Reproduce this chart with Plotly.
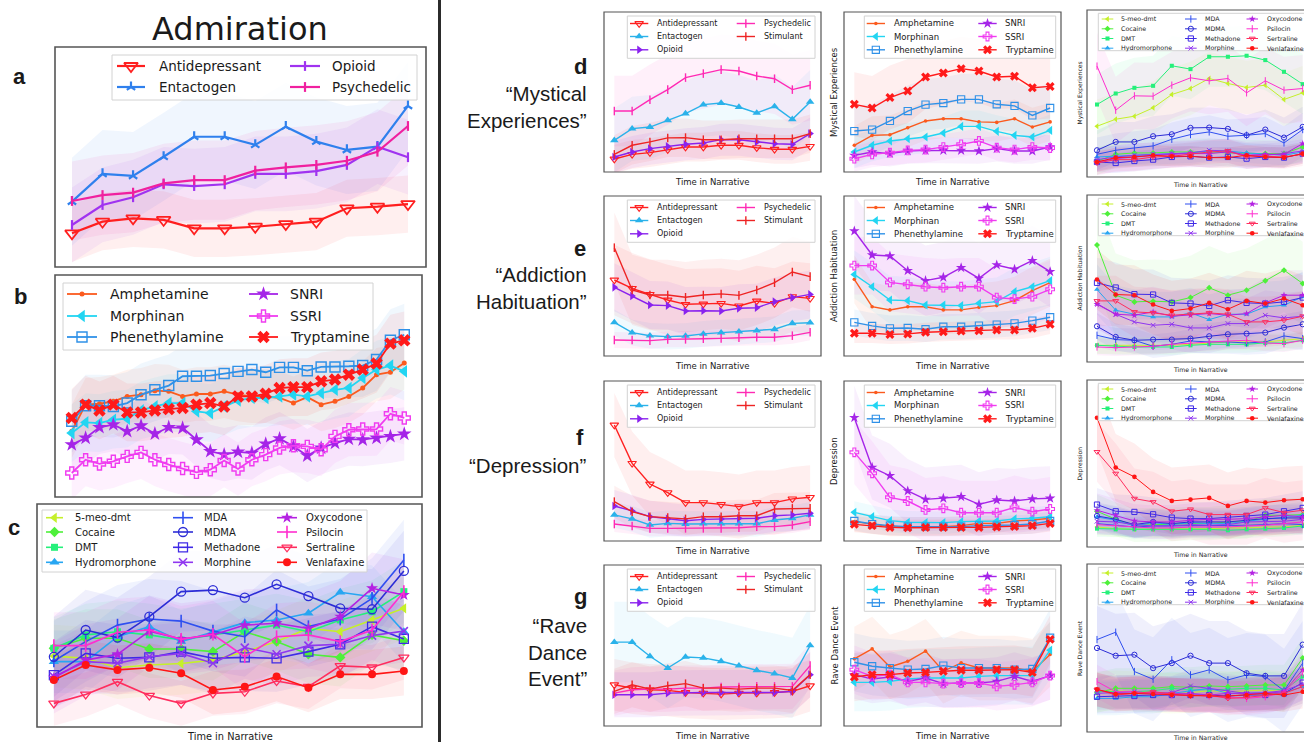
import plotly.graph_objects as go

W, H = 1304, 742

# ------------------------------------------------------------------ data
T12 = [0, 1, 2, 3, 4, 5, 6, 7, 8, 9, 10, 11]
T25 = [0, 1, 2, 3, 4, 5, 6, 7, 8, 9, 10, 11, 12, 13, 14, 15, 16, 17, 18, 19, 20, 21, 22, 23, 24]

TITLE = "Admiration"
X_LABEL = "Time in Narrative"
CLASS_A_NAMES = ["Antidepressant", "Entactogen", "Opioid", "Psychedelic"]
CLASS_NAMES = ["Antidepressant", "Entactogen", "Opioid", "Psychedelic", "Stimulant"]
CHEM_NAMES = ["Amphetamine", "Morphinan", "Phenethylamine", "SNRI", "SSRI", "Tryptamine"]
DRUG_NAMES = ["5-meo-dmt", "Cocaine", "DMT", "Hydromorphone", "MDA", "MDMA",
              "Methadone", "Morphine", "Oxycodone", "Psilocin", "Sertraline", "Venlafaxine"]
EMOTIONS = ["Mystical Experiences", "Addiction Habituation", "Depression", "Rave Dance Event"]
ROW_LETTERS = ["d", "e", "f", "g"]
ROW_CAPTIONS = ["“Mystical<br>Experiences”", "“Addiction<br>Habituation”", "“Depression”", "“Rave<br>Dance<br>Event”"]

# (a) Admiration - drug classes
A_ANTIDEPRESSANT = [15.3, 20.6, 22.1, 21.4, 17.6, 17.6, 18.3, 19.5, 20.6, 26.7, 27.4, 28.6]
A_ENTACTOGEN = [29.7, 42.3, 41.4, 50.1, 59.2, 59.2, 55.5, 63.8, 57.0, 53.2, 54.7, 73.2]
A_OPIOID = [19.1, 28.2, 31.7, 37.6, 36.8, 37.6, 42.3, 42.3, 43.6, 46.4, 54.7, 49.9]
A_PSYCHEDELIC = [30.0, 32.7, 33.8, 38.0, 39.5, 39.5, 43.8, 45.3, 46.4, 48.3, 52.4, 64.1]
A_SPREAD = [13, 20, 17, 18]

# (b) Admiration - chemical classes
B_AMPHETAMINE = [29.6, 41.6, 42.0, 43.1, 45.3, 46.1, 47.9, 47.6, 45.3, 46.4, 46.4, 47.6, 46.1,
                 45.3, 45.3, 44.6, 42.3, 45.0, 41.6, 43.1, 45.3, 49.1, 55.1, 56.2, 60.4]
B_MORPHINAN = [28.8, 33.6, 33.3, 34.8, 35.3, 39.0, 40.8, 42.3, 42.3, 38.6, 37.8, 40.8, 43.5,
               44.6, 44.6, 45.3, 46.1, 45.3, 46.8, 48.3, 49.1, 53.6, 57.4, 59.2, 56.6]
B_PHENETHYLAMINE = [34.1, 41.1, 41.1, 40.8, 42.3, 46.1, 48.3, 50.2, 54.4, 54.4, 54.7, 55.6, 56.6,
                    57.4, 56.2, 58.4, 58.4, 56.9, 58.6, 58.6, 58.9, 59.2, 61.9, 70.6, 73.1]
B_SNRI = [23.6, 26.6, 31.4, 32.6, 29.6, 32.1, 28.5, 31.4, 31.1, 25.8, 20.6, 19.1, 20.3,
          19.8, 23.9, 26.3, 22.8, 18.6, 22.1, 24.3, 26.1, 25.8, 26.6, 27.3, 28.4]
B_SSRI = [10.8, 16.8, 14.9, 16.1, 18.3, 20.1, 16.8, 14.6, 12.8, 11.1, 12.3, 16.4, 12.6,
          16.8, 19.1, 22.1, 23.1, 22.8, 21.3, 27.3, 30.3, 30.6, 30.6, 37.5, 35.6]
B_TRYPTAMINE = [35.6, 41.6, 39.0, 41.6, 38.1, 38.1, 39.0, 39.6, 40.1, 41.6, 42.3, 40.8, 45.3,
                45.3, 46.5, 49.1, 49.5, 49.5, 52.1, 52.9, 55.1, 57.4, 60.1, 69.1, 70.6]
B_SPREAD = [12, 13, 14, 12, 12, 13]

# (c) Admiration - individual drugs
C_5MEO_DMT = [31.8, 30.8, 26.6, 27.8, 28.5, 30.0, 33.8, 38.3, 44.2, 42.7, 48.0, 53.2]
C_COCAINE = [35.3, 39.8, 39.8, 35.0, 35.0, 33.8, 42.7, 38.3, 32.6, 31.2, 41.3, 38.7]
C_DMT = [35.3, 41.3, 42.7, 41.3, 39.0, 41.3, 43.5, 45.7, 42.7, 48.0, 51.7, 60.7]
C_HYDROMORPHONE = [29.3, 29.3, 40.5, 45.0, 38.3, 42.7, 46.8, 48.0, 51.0, 60.4, 58.4, 42.7]
C_MDA = [29.6, 38.3, 45.7, 48.4, 47.5, 43.0, 40.5, 52.5, 45.0, 48.4, 57.7, 74.9]
C_MDMA = [31.5, 43.5, 40.1, 49.5, 60.7, 61.4, 58.0, 64.0, 58.7, 53.2, 52.8, 70.0]
C_METHADONE = [23.3, 33.0, 30.8, 31.2, 33.8, 30.8, 31.2, 30.8, 33.8, 37.1, 45.0, 39.5]
C_MORPHINE = [22.6, 29.3, 28.6, 31.5, 33.0, 28.6, 35.6, 32.6, 36.5, 37.1, 41.0, 43.0]
C_OXYCODONE = [22.1, 30.0, 32.6, 43.0, 39.5, 41.3, 45.7, 46.5, 44.2, 49.5, 62.2, 59.2]
C_PSILOCIN = [36.5, 36.5, 42.5, 43.5, 39.3, 41.6, 31.5, 40.5, 41.3, 38.3, 43.5, 60.7]
C_SERTRALINE = [10.6, 14.6, 20.3, 14.1, 10.6, 15.1, 15.8, 20.6, 18.1, 27.4, 26.8, 31.2]
C_VENLAFAXINE = [21.1, 27.8, 25.6, 26.6, 24.1, 16.6, 18.1, 22.6, 17.6, 23.6, 23.6, 25.1]
C_SPREAD = [14, 13, 14, 14, 18, 18, 15, 14, 16, 15, 10, 11]

# (d) Mystical Experiences
D_CLS_ANTIDEPRESSANT = [8.1, 11.0, 12.1, 14.0, 15.6, 15.6, 16.7, 16.7, 15.2, 14.2, 14.2, 16.0]
D_CLS_ENTACTOGEN = [19.8, 27.1, 28.1, 32.3, 36.5, 42.1, 43.1, 40.6, 36.9, 41.0, 32.9, 43.8]
D_CLS_OPIOID = [9.4, 12.5, 14.6, 16.0, 17.3, 18.1, 20.2, 20.2, 18.8, 17.7, 17.3, 24.0]
D_CLS_PSYCHEDELIC = [38.1, 38.1, 45.2, 51.5, 59.0, 61.5, 64.0, 63.1, 60.0, 58.3, 51.5, 54.2]
D_CLS_STIMULANT = [11.0, 16.7, 18.8, 21.3, 21.5, 20.2, 20.2, 20.8, 20.8, 20.8, 20.8, 24.0]
D_CLS_SPREAD = [9, 20, 10, 22, 12]
D_CHEM_AMPHETAMINE = [16.7, 22.9, 23.3, 27.7, 31.9, 33.3, 33.3, 31.3, 31.0, 33.3, 28.1, 31.3]
D_CHEM_MORPHINAN = [12.5, 16.7, 19.4, 20.8, 21.9, 24.4, 28.5, 28.5, 25.4, 22.9, 21.9, 26.0]
D_CHEM_PHENETHYLAMINE = [25.6, 26.5, 31.9, 38.1, 42.1, 43.1, 45.4, 45.4, 42.3, 41.3, 35.4, 40.0]
D_CHEM_SNRI = [10.4, 12.5, 11.5, 13.1, 13.5, 13.5, 13.5, 13.1, 14.6, 13.1, 13.1, 15.6]
D_CHEM_SSRI = [8.3, 11.0, 12.1, 13.5, 14.0, 15.6, 17.3, 19.4, 15.2, 14.0, 15.6, 15.0]
D_CHEM_TRYPTAMINE = [42.3, 40.0, 46.5, 50.6, 59.4, 61.9, 64.6, 63.1, 59.4, 59.8, 52.7, 53.5]
D_CHEM_SPREAD = [12, 10, 16, 8, 8, 20]
D_DRUG_5MEO_DMT = [30.4, 34.6, 36.4, 41.4, 49.4, 53.0, 59.0, 56.0, 53.6, 55.0, 46.4, 50.4]
D_DRUG_COCAINE = [9.4, 13.6, 14.4, 14.4, 15.0, 15.0, 15.0, 14.4, 14.0, 14.0, 14.0, 18.0]
D_DRUG_DMT = [43.4, 50.0, 53.4, 54.6, 66.6, 64.6, 72.0, 72.0, 72.6, 70.0, 63.0, 55.6]
D_DRUG_HYDROMORPHONE = [12.0, 12.4, 13.0, 13.6, 14.0, 14.4, 15.6, 15.6, 14.4, 13.6, 13.0, 15.0]
D_DRUG_MDA = [13.6, 16.0, 17.4, 18.6, 22.6, 25.4, 27.0, 24.4, 25.0, 26.0, 20.4, 28.4]
D_DRUG_MDMA = [16.0, 21.0, 21.0, 24.4, 25.6, 29.4, 29.6, 28.8, 25.0, 28.4, 23.6, 30.0]
D_DRUG_METHADONE = [9.0, 8.4, 9.6, 10.4, 12.0, 12.4, 11.6, 12.0, 11.0, 12.0, 11.6, 14.0]
D_DRUG_MORPHINE = [10.4, 12.0, 13.0, 13.6, 14.0, 14.4, 16.0, 15.6, 13.0, 13.0, 14.0, 15.6]
D_DRUG_OXYCODONE = [9.0, 11.0, 12.0, 13.0, 13.6, 14.0, 14.0, 15.0, 13.0, 13.6, 13.6, 20.0]
D_DRUG_PSILOCIN = [66.4, 40.0, 48.6, 48.4, 55.0, 59.4, 57.6, 59.0, 50.4, 57.6, 52.0, 53.0]
D_DRUG_SERTRALINE = [8.4, 10.4, 10.4, 12.0, 12.4, 13.6, 15.0, 15.6, 12.0, 12.4, 12.0, 13.6]
D_DRUG_VENLAFAXINE = [9.0, 11.6, 12.0, 13.0, 12.4, 12.4, 11.6, 11.6, 13.0, 12.0, 11.6, 14.0]
D_DRUG_SPREAD = [16, 8, 18, 6, 10, 12, 6, 7, 8, 20, 7, 6]

# (e) Addiction Habituation
E_CLS_ANTIDEPRESSANT = [47.5, 42.3, 38.5, 35.0, 32.3, 32.5, 32.9, 31.3, 34.4, 32.9, 37.1, 36.0]
E_CLS_ENTACTOGEN = [21.0, 14.6, 12.7, 12.1, 12.5, 13.8, 14.6, 15.2, 15.8, 16.7, 20.4, 20.8]
E_CLS_OPIOID = [42.9, 37.5, 31.9, 31.5, 28.1, 28.3, 28.1, 29.8, 30.2, 34.0, 36.5, 38.5]
E_CLS_PSYCHEDELIC = [10.0, 10.0, 9.6, 10.4, 10.4, 10.8, 11.0, 11.5, 11.7, 11.7, 12.7, 14.8]
E_CLS_STIMULANT = [67.7, 41.3, 38.1, 38.1, 36.7, 38.1, 38.8, 37.9, 41.3, 45.8, 52.5, 49.6]
E_CLS_SPREAD = [22, 8, 15, 5, 22]
E_CHEM_AMPHETAMINE = [47.9, 30.8, 28.8, 30.8, 30.8, 28.8, 28.8, 30.4, 31.5, 34.6, 40.8, 45.8]
E_CHEM_MORPHINAN = [51.0, 43.3, 35.0, 34.6, 31.9, 31.9, 31.5, 32.9, 34.0, 40.2, 43.3, 47.1]
E_CHEM_PHENETHYLAMINE = [21.0, 18.8, 17.3, 17.5, 16.7, 18.3, 18.3, 19.0, 19.6, 20.4, 22.1, 24.2]
E_CHEM_SNRI = [78.1, 63.1, 62.5, 53.3, 47.1, 49.2, 55.2, 48.5, 56.9, 54.2, 59.6, 52.7]
E_CHEM_SSRI = [56.5, 56.5, 46.0, 44.8, 43.3, 42.7, 43.3, 43.3, 36.5, 35.6, 37.1, 41.7]
E_CHEM_TRYPTAMINE = [14.2, 14.2, 13.5, 13.8, 14.8, 15.2, 15.6, 15.8, 16.3, 16.3, 17.3, 19.8]
E_CHEM_SPREAD = [15, 15, 8, 22, 18, 6]
E_DRUG_5MEO_DMT = [10.0, 10.0, 10.0, 10.0, 10.0, 10.6, 11.4, 12.0, 12.0, 12.0, 13.0, 14.0]
E_DRUG_COCAINE = [70.0, 40.0, 36.0, 36.4, 36.0, 38.6, 44.4, 40.0, 43.0, 48.6, 55.0, 47.0]
E_DRUG_DMT = [10.0, 9.4, 9.0, 9.0, 9.0, 10.0, 10.6, 10.6, 10.6, 11.4, 11.4, 13.0]
E_DRUG_HYDROMORPHONE = [43.4, 31.0, 28.6, 27.0, 27.0, 29.4, 25.4, 28.6, 28.6, 33.0, 34.0, 39.0]
E_DRUG_MDA = [16.0, 13.4, 13.0, 9.4, 10.6, 12.6, 12.0, 12.0, 11.4, 12.0, 15.6, 14.0]
E_DRUG_MDMA = [21.4, 15.0, 13.0, 13.4, 13.4, 14.0, 15.4, 16.6, 17.0, 17.6, 20.6, 22.6]
E_DRUG_METHADONE = [47.4, 44.6, 40.6, 40.4, 35.4, 35.0, 33.6, 37.0, 35.4, 35.0, 36.0, 38.6]
E_DRUG_MORPHINE = [35.0, 28.6, 24.0, 22.0, 22.6, 20.4, 20.4, 23.0, 23.0, 28.0, 26.4, 27.4]
E_DRUG_OXYCODONE = [34.6, 28.6, 28.0, 30.0, 27.4, 28.0, 29.0, 28.0, 29.0, 35.4, 40.0, 40.0]
E_DRUG_PSILOCIN = [9.0, 8.6, 9.0, 9.4, 10.6, 11.4, 12.0, 12.6, 13.0, 11.4, 11.0, 13.0]
E_DRUG_SERTRALINE = [36.6, 36.6, 30.0, 29.4, 28.0, 28.6, 29.4, 28.6, 24.0, 24.0, 25.0, 27.4]
E_DRUG_VENLAFAXINE = [49.4, 40.4, 40.0, 34.4, 30.6, 32.0, 35.4, 31.6, 36.6, 35.0, 38.0, 34.0]
E_DRUG_SPREAD = [5, 25, 5, 15, 7, 8, 15, 15, 15, 5, 15, 18]

# (f) Depression
F_CLS_ANTIDEPRESSANT = [72.5, 48.5, 35.6, 30.2, 24.0, 24.0, 22.9, 21.5, 24.0, 24.0, 26.3, 27.3]
F_CLS_ENTACTOGEN = [16.3, 13.8, 10.0, 11.0, 10.6, 10.8, 10.8, 10.8, 10.8, 13.1, 14.2, 16.3]
F_CLS_OPIOID = [21.9, 18.8, 15.2, 13.8, 12.7, 13.5, 13.8, 14.2, 14.2, 15.8, 16.3, 17.3]
F_CLS_PSYCHEDELIC = [10.6, 9.4, 7.9, 7.9, 7.9, 7.9, 7.9, 8.3, 9.0, 9.0, 10.0, 12.1]
F_CLS_STIMULANT = [24.6, 18.3, 15.2, 14.6, 13.8, 15.2, 15.2, 15.8, 15.8, 20.0, 20.4, 20.4]
F_CLS_SPREAD = [20, 8, 10, 5, 10]
F_CHEM_AMPHETAMINE = [12.1, 10.4, 9.0, 9.0, 9.0, 9.0, 9.6, 11.0, 11.0, 12.5, 13.1, 14.2]
F_CHEM_MORPHINAN = [17.9, 15.2, 12.7, 11.7, 11.5, 11.5, 12.1, 12.5, 12.5, 13.8, 14.2, 15.2]
F_CHEM_PHENETHYLAMINE = [12.5, 10.6, 9.6, 9.0, 9.0, 9.0, 9.0, 9.6, 9.6, 10.0, 10.6, 12.5]
F_CHEM_SNRI = [77.1, 46.0, 40.8, 31.3, 26.0, 26.7, 27.7, 22.9, 25.6, 25.0, 26.3, 26.7]
F_CHEM_SSRI = [55.4, 42.3, 27.3, 25.0, 19.4, 20.4, 17.7, 17.7, 17.7, 21.0, 18.3, 20.0]
F_CHEM_TRYPTAMINE = [10.4, 9.6, 8.5, 8.3, 8.5, 8.5, 8.5, 8.5, 8.8, 9.0, 9.6, 11.0]
F_CHEM_SPREAD = [6, 7, 6, 20, 20, 5]
F_DRUG_5MEO_DMT = [12.0, 11.0, 10.6, 10.6, 10.6, 11.0, 11.0, 11.4, 11.4, 12.0, 12.0, 13.0]
F_DRUG_COCAINE = [21.4, 16.6, 13.0, 13.4, 13.4, 14.0, 14.0, 15.0, 15.0, 19.0, 19.0, 19.4]
F_DRUG_DMT = [11.0, 10.6, 10.6, 10.6, 10.6, 10.6, 10.6, 10.0, 10.6, 11.0, 11.4, 12.6]
F_DRUG_HYDROMORPHONE = [18.0, 16.0, 12.6, 14.6, 13.4, 14.6, 14.0, 14.0, 15.4, 16.6, 17.4, 19.0]
F_DRUG_MDA = [14.0, 13.0, 12.0, 12.6, 12.6, 13.0, 13.0, 12.6, 13.0, 13.4, 14.0, 13.4]
F_DRUG_MDMA = [18.6, 16.6, 13.4, 15.0, 14.0, 15.0, 15.0, 15.0, 16.0, 17.0, 17.4, 17.4]
F_DRUG_METHADONE = [25.4, 21.4, 21.0, 19.6, 17.6, 17.0, 17.0, 18.0, 18.6, 19.4, 21.4, 23.4]
F_DRUG_MORPHINE = [15.4, 15.0, 13.4, 12.6, 12.6, 13.4, 13.0, 13.4, 15.0, 15.0, 15.4, 16.6]
F_DRUG_OXYCODONE = [22.0, 19.0, 15.6, 15.0, 15.0, 16.0, 16.6, 16.6, 17.0, 18.0, 19.0, 18.0]
F_DRUG_PSILOCIN = [13.4, 12.6, 12.0, 11.4, 11.4, 12.0, 12.0, 12.0, 12.6, 13.0, 14.0, 15.0]
F_DRUG_SERTRALINE = [57.0, 44.0, 29.0, 27.0, 21.4, 22.6, 19.4, 19.4, 19.4, 23.4, 20.6, 22.0]
F_DRUG_VENLAFAXINE = [77.4, 47.6, 42.0, 33.0, 27.6, 28.4, 29.4, 24.6, 27.6, 26.6, 28.0, 28.6]
F_DRUG_SPREAD = [5, 10, 5, 8, 6, 8, 10, 8, 10, 5, 18, 20]

# (g) Rave Dance Event
G_CLS_ANTIDEPRESSANT = [25.6, 23.5, 22.5, 22.1, 20.8, 20.4, 19.8, 20.4, 20.4, 20.8, 21.5, 25.0]
G_CLS_ENTACTOGEN = [52.1, 52.1, 43.3, 36.0, 42.9, 42.3, 40.2, 37.5, 34.6, 32.5, 29.8, 50.0]
G_CLS_OPIOID = [19.4, 19.4, 19.4, 20.4, 20.8, 20.8, 20.8, 20.8, 20.8, 20.8, 21.5, 31.9]
G_CLS_PSYCHEDELIC = [20.4, 22.5, 22.9, 22.9, 23.5, 23.5, 24.2, 24.2, 24.6, 24.6, 24.6, 37.5]
G_CLS_STIMULANT = [21.5, 25.6, 22.9, 25.0, 26.3, 23.5, 23.5, 22.9, 23.5, 23.5, 22.1, 31.9]
G_CLS_SPREAD = [16, 25, 14, 14, 14]
G_CHEM_AMPHETAMINE = [41.7, 47.9, 36.7, 40.2, 46.5, 34.0, 39.2, 36.0, 36.0, 36.0, 34.0, 44.4]
G_CHEM_MORPHINAN = [27.1, 27.1, 27.7, 29.2, 29.8, 29.8, 29.8, 30.8, 31.3, 31.3, 31.3, 47.1]
G_CHEM_PHENETHYLAMINE = [39.6, 37.1, 36.0, 35.0, 35.4, 37.5, 36.0, 36.0, 36.0, 35.0, 35.4, 54.8]
G_CHEM_SNRI = [31.9, 29.2, 30.4, 27.7, 29.8, 26.3, 26.7, 26.7, 27.7, 30.8, 27.7, 31.3]
G_CHEM_SSRI = [35.0, 30.8, 31.9, 27.1, 27.1, 26.3, 26.7, 26.7, 24.6, 25.6, 27.1, 31.3]
G_CHEM_TRYPTAMINE = [30.4, 31.9, 31.9, 32.9, 33.3, 34.0, 34.6, 34.6, 35.0, 35.0, 33.3, 53.8]
G_CHEM_SPREAD = [20, 18, 18, 15, 15, 15]
G_DRUG_5MEO_DMT = [24.0, 24.6, 24.0, 23.4, 23.0, 23.4, 24.6, 24.0, 24.6, 25.0, 24.0, 37.0]
G_DRUG_COCAINE = [23.4, 26.0, 26.0, 26.0, 27.0, 26.6, 27.4, 27.0, 27.4, 28.0, 28.0, 44.0]
G_DRUG_DMT = [24.0, 24.0, 24.0, 24.6, 26.0, 25.0, 25.0, 25.4, 26.0, 26.0, 25.0, 33.0]
G_DRUG_HYDROMORPHONE = [20.0, 20.0, 21.0, 21.0, 23.0, 24.6, 26.0, 23.0, 23.0, 23.4, 23.4, 27.0]
G_DRUG_MDA = [55.0, 59.4, 36.0, 31.4, 43.0, 34.0, 37.0, 31.0, 34.0, 33.0, 24.6, 41.0]
G_DRUG_MDMA = [50.0, 45.4, 46.0, 38.0, 41.0, 45.4, 41.0, 41.0, 35.0, 33.4, 33.4, 52.0]
G_DRUG_METHADONE = [21.0, 21.4, 21.4, 22.0, 22.0, 22.0, 22.0, 21.4, 22.0, 22.0, 23.0, 29.4]
G_DRUG_MORPHINE = [23.0, 23.4, 24.0, 23.0, 23.4, 27.4, 26.0, 24.6, 23.0, 23.4, 24.6, 28.6]
G_DRUG_OXYCODONE = [25.0, 23.0, 23.0, 23.4, 23.0, 23.0, 22.0, 23.0, 23.0, 23.0, 24.0, 37.0]
G_DRUG_PSILOCIN = [30.0, 24.0, 24.0, 23.0, 22.0, 22.0, 21.4, 21.0, 20.0, 21.0, 23.4, 35.0]
G_DRUG_SERTRALINE = [25.4, 22.0, 23.0, 24.0, 22.6, 21.4, 22.0, 20.0, 20.6, 22.0, 23.0, 27.0]
G_DRUG_VENLAFAXINE = [25.4, 22.6, 23.0, 22.6, 22.0, 21.4, 21.4, 21.4, 22.0, 23.0, 22.0, 24.0]
G_DRUG_SPREAD = [12, 12, 10, 10, 25, 25, 10, 10, 10, 10, 10, 10]

A_VALUES = [A_ANTIDEPRESSANT, A_ENTACTOGEN, A_OPIOID, A_PSYCHEDELIC]
B_VALUES = [B_AMPHETAMINE, B_MORPHINAN, B_PHENETHYLAMINE, B_SNRI, B_SSRI, B_TRYPTAMINE]
C_VALUES = [C_5MEO_DMT, C_COCAINE, C_DMT, C_HYDROMORPHONE, C_MDA, C_MDMA, C_METHADONE,
            C_MORPHINE, C_OXYCODONE, C_PSILOCIN, C_SERTRALINE, C_VENLAFAXINE]
GRID = [
    [([D_CLS_ANTIDEPRESSANT, D_CLS_ENTACTOGEN, D_CLS_OPIOID, D_CLS_PSYCHEDELIC, D_CLS_STIMULANT], D_CLS_SPREAD),
     ([D_CHEM_AMPHETAMINE, D_CHEM_MORPHINAN, D_CHEM_PHENETHYLAMINE, D_CHEM_SNRI, D_CHEM_SSRI, D_CHEM_TRYPTAMINE], D_CHEM_SPREAD),
     ([D_DRUG_5MEO_DMT, D_DRUG_COCAINE, D_DRUG_DMT, D_DRUG_HYDROMORPHONE, D_DRUG_MDA, D_DRUG_MDMA, D_DRUG_METHADONE,
       D_DRUG_MORPHINE, D_DRUG_OXYCODONE, D_DRUG_PSILOCIN, D_DRUG_SERTRALINE, D_DRUG_VENLAFAXINE], D_DRUG_SPREAD)],
    [([E_CLS_ANTIDEPRESSANT, E_CLS_ENTACTOGEN, E_CLS_OPIOID, E_CLS_PSYCHEDELIC, E_CLS_STIMULANT], E_CLS_SPREAD),
     ([E_CHEM_AMPHETAMINE, E_CHEM_MORPHINAN, E_CHEM_PHENETHYLAMINE, E_CHEM_SNRI, E_CHEM_SSRI, E_CHEM_TRYPTAMINE], E_CHEM_SPREAD),
     ([E_DRUG_5MEO_DMT, E_DRUG_COCAINE, E_DRUG_DMT, E_DRUG_HYDROMORPHONE, E_DRUG_MDA, E_DRUG_MDMA, E_DRUG_METHADONE,
       E_DRUG_MORPHINE, E_DRUG_OXYCODONE, E_DRUG_PSILOCIN, E_DRUG_SERTRALINE, E_DRUG_VENLAFAXINE], E_DRUG_SPREAD)],
    [([F_CLS_ANTIDEPRESSANT, F_CLS_ENTACTOGEN, F_CLS_OPIOID, F_CLS_PSYCHEDELIC, F_CLS_STIMULANT], F_CLS_SPREAD),
     ([F_CHEM_AMPHETAMINE, F_CHEM_MORPHINAN, F_CHEM_PHENETHYLAMINE, F_CHEM_SNRI, F_CHEM_SSRI, F_CHEM_TRYPTAMINE], F_CHEM_SPREAD),
     ([F_DRUG_5MEO_DMT, F_DRUG_COCAINE, F_DRUG_DMT, F_DRUG_HYDROMORPHONE, F_DRUG_MDA, F_DRUG_MDMA, F_DRUG_METHADONE,
       F_DRUG_MORPHINE, F_DRUG_OXYCODONE, F_DRUG_PSILOCIN, F_DRUG_SERTRALINE, F_DRUG_VENLAFAXINE], F_DRUG_SPREAD)],
    [([G_CLS_ANTIDEPRESSANT, G_CLS_ENTACTOGEN, G_CLS_OPIOID, G_CLS_PSYCHEDELIC, G_CLS_STIMULANT], G_CLS_SPREAD),
     ([G_CHEM_AMPHETAMINE, G_CHEM_MORPHINAN, G_CHEM_PHENETHYLAMINE, G_CHEM_SNRI, G_CHEM_SSRI, G_CHEM_TRYPTAMINE], G_CHEM_SPREAD),
     ([G_DRUG_5MEO_DMT, G_DRUG_COCAINE, G_DRUG_DMT, G_DRUG_HYDROMORPHONE, G_DRUG_MDA, G_DRUG_MDMA, G_DRUG_METHADONE,
       G_DRUG_MORPHINE, G_DRUG_OXYCODONE, G_DRUG_PSILOCIN, G_DRUG_SERTRALINE, G_DRUG_VENLAFAXINE], G_DRUG_SPREAD)],
]

# ------------------------------------------------------------------ styles
STY_CLASS_A = {
    "Antidepressant": ("#ff1f1f", "triangle-down-open", 12),
    "Entactogen": ("#2f80ed", "y-up", 7),
    "Opioid": ("#a033f0", "line-ns", 7),
    "Psychedelic": ("#f0209f", "line-ns", 7),
}
STY_CLASS = {
    "Antidepressant": ("#ff2020", "triangle-down-open", 11),
    "Entactogen": ("#2ab2ea", "triangle-up", 11),
    "Opioid": ("#8a22ee", "triangle-right", 11),
    "Psychedelic": ("#ff2ab4", "line-ns", 9),
    "Stimulant": ("#ee2424", "line-ns", 9),
}
STY_CHEM = {
    "Amphetamine": ("#fb5a1e", "circle", 5),
    "Morphinan": ("#22d5f2", "triangle-left", 11),
    "Phenethylamine": ("#2f91e8", "square-open", 10),
    "SNRI": ("#a524e8", "star", 11),
    "SSRI": ("#f03cf0", "cross-open", 10),
    "Tryptamine": ("#ff1a1a", "x", 11),
}
STY_DRUG = {
    "5-meo-dmt": ("#c5f02a", "triangle-left", 9),
    "Cocaine": ("#4ef03a", "diamond", 8),
    "DMT": ("#25f07a", "square", 7),
    "Hydromorphone": ("#27a6f2", "triangle-up", 9),
    "MDA": ("#2f4ff0", "line-ns", 9),
    "MDMA": ("#2c2cd6", "circle-open", 9),
    "Methadone": ("#3f2ae6", "square-open", 9),
    "Morphine": ("#8f36f0", "x-thin", 8),
    "Oxycodone": ("#b421e2", "star", 9),
    "Psilocin": ("#ff2ecf", "line-ns", 9),
    "Sertraline": ("#ff2d5e", "triangle-down-open", 9),
    "Venlafaxine": ("#ff1515", "circle", 8),
}
BAND_ALPHA = 0.07
FRAME_COLOR = "#555555"
TEXT_COLOR = "#1a1a1a"
LEG_FONT = "DejaVu Sans"
LBL_FONT = "Liberation Sans"

OPEN = {"triangle-down-open", "square-open", "circle-open", "cross-open"}
LINEONLY = {"line-ns", "y-up", "x-thin", "cross-thin"}

fig = go.Figure()
axes_layout = {}
shapes = []
annotations = []
legend_traces = []


def fx(px):
    return px / W


def fy(py):
    return 1.0 - py / H


def rgba(hexcol, a):
    h = hexcol.lstrip("#")
    return "rgba(%d,%d,%d,%.3f)" % (int(h[0:2], 16), int(h[2:4], 16), int(h[4:6], 16), a)


def marker_dict(col, sym, size, lw):
    if sym in OPEN:
        mlw = max(1.0, lw * 0.8)
    elif sym in LINEONLY:
        mlw = max(1.0, lw)
    else:
        mlw = 0
    return dict(symbol=sym, size=size, color=col, line=dict(color=col, width=mlw))


def text(t, px, py, size, family=LEG_FONT, xanchor="left", angle=0, weight="normal", align="left"):
    annotations.append(dict(text=t, x=fx(px), y=fy(py), xref="paper", yref="paper",
                            xanchor=xanchor, yanchor="middle", showarrow=False, textangle=angle,
                            align=align, font=dict(family=family, size=size, color=TEXT_COLOR, weight=weight)))


count = [0]


def add_panel(box, xr, xs, names, values, spreads, styles, mscale, lw, frame_w=1.3):
    count[0] += 1
    s = "" if count[0] == 1 else str(count[0])
    xa, ya = "x" + s, "y" + s
    x0, y0, x1, y1 = box
    axes_layout["xaxis" + s] = dict(domain=[fx(x0), min(1.0, fx(x1))], range=xr, visible=False,
                                    anchor=ya, fixedrange=True)
    axes_layout["yaxis" + s] = dict(domain=[fy(y1), fy(y0)], range=[0, 100], visible=False,
                                    anchor=xa, fixedrange=True)
    for name, v, sp in zip(names, values, spreads):
        col = styles[name][0]
        up = [a + sp for a in v]
        lo = [a - sp for a in v]
        fig.add_trace(go.Scatter(x=list(xs) + list(xs)[::-1], y=up + lo[::-1], mode="lines", fill="toself",
                                 fillcolor=rgba(col, BAND_ALPHA), line=dict(width=0), hoverinfo="skip",
                                 showlegend=False, xaxis=xa, yaxis=ya))
    for name, v in zip(names, values):
        col, sym, sz = styles[name]
        fig.add_trace(go.Scatter(x=xs, y=v, mode="lines+markers", name=name,
                                 line=dict(color=col, width=lw),
                                 marker=marker_dict(col, sym, sz * mscale, lw),
                                 showlegend=False, xaxis=xa, yaxis=ya))
    shapes.append(dict(type="rect", xref="paper", yref="paper", x0=fx(x0), x1=fx(x1), y0=fy(y1), y1=fy(y0),
                       line=dict(color=FRAME_COLOR, width=frame_w), fillcolor="rgba(0,0,0,0)", layer="above"))


def add_legend(box, rows, cols, names, styles, mscale, lw, fsize):
    bx0, by0, bx1, by1 = box
    legend_traces.append(go.Scatter(x=[bx0, bx1, bx1, bx0, bx0], y=[by0, by0, by1, by1, by0], mode="lines",
                                    fill="toself", fillcolor="rgba(255,255,255,0.85)",
                                    line=dict(color="#d2d2d2", width=1), hoverinfo="skip", showlegend=False))
    n = len(rows)
    for k, name in enumerate(names):
        c, r = divmod(k, n)
        lx0, lx1, tx = cols[c]
        yy = rows[r]
        col, sym, sz = styles[name]
        legend_traces.append(go.Scatter(x=[lx0, lx1], y=[yy, yy], mode="lines", line=dict(color=col, width=lw),
                                        hoverinfo="skip", showlegend=False))
        legend_traces.append(go.Scatter(x=[(lx0 + lx1) / 2.0], y=[yy], mode="markers",
                                        marker=marker_dict(col, sym, sz * mscale, lw),
                                        hoverinfo="skip", showlegend=False))
        text(name, tx, yy, fsize)


# ------------------------------------------------------------------ left column (a, b, c)
BOX_A = (55, 47, 426, 267)
BOX_B = (55, 275, 422, 497)
BOX_C = (37, 504, 422, 727)

add_panel(BOX_A, [-0.556, 11.59], T12, CLASS_A_NAMES, A_VALUES, A_SPREAD, STY_CLASS_A, 1.0, 2.2, 1.6)
add_legend((112, 55, 417, 100), [66, 87], [(117, 145, 157), (290, 320, 330)],
           CLASS_A_NAMES, STY_CLASS_A, 1.0, 2.2, 13.5)

add_panel(BOX_B, [-1.21, 25.28], T25, CHEM_NAMES, B_VALUES, B_SPREAD, STY_CHEM, 1.0, 1.8, 1.6)
add_legend((63, 283, 373, 350), [294, 316, 337], [(67, 97, 108), (249, 278, 288)],
           CHEM_NAMES, STY_CHEM, 1.0, 1.8, 14)

add_panel(BOX_C, [-0.53, 11.57], T12, DRUG_NAMES, C_VALUES, C_SPREAD, STY_DRUG, 1.0, 1.6, 1.6)
add_legend((42, 510, 367, 572), [517.7, 532, 547.3, 562.3], [(46, 63, 73), (173, 193, 202), (277, 297, 304)],
           DRUG_NAMES, STY_DRUG, 1.0, 1.6, 10)
text(X_LABEL, 229.5, 736, 9.8, xanchor="center")

text(TITLE, 240, 29, 32, xanchor="center")
text("a", 19, 77, 22, family=LBL_FONT, xanchor="center", weight="bold")
text("b", 20, 297, 22, family=LBL_FONT, xanchor="center", weight="bold")
text("c", 14, 527, 22, family=LBL_FONT, xanchor="center", weight="bold")

# ------------------------------------------------------------------ right grid (d - g)
COLX = [(604, 821), (844, 1061), (1087, 1313)]
ROWY = [(12, 172), (196, 356), (381, 541), (565, 726)]
ROWY3 = [(10, 177), (195, 362), (380, 547), (564, 732)]
XR_G12 = [-0.58, 11.61]
XR_G3 = [-0.535, 11.07]
GRID_NAMES = [CLASS_NAMES, CHEM_NAMES, DRUG_NAMES]
GRID_STY = [STY_CLASS, STY_CHEM, STY_DRUG]
GRID_MSCALE = [0.68, 0.72, 0.58]
GRID_LW = [1.4, 1.4, 1.0]
GRID_LEG = [
    dict(box=(23.3, 4, 211, 46.3), rows=[11.5, 24.5, 37.8],
         cols=[(26, 44.3, 51), (132.7, 151, 157.7)], font=8),
    dict(box=(20.3, 4, 211.7, 46.3), rows=[11.5, 24.5, 37.8],
         cols=[(22.7, 41, 48.3), (134.3, 152.7, 159.3)], font=8.5),
    dict(box=(11.3, 3.3, 240, 40.7), rows=[9, 18.8, 28.5, 38.2],
         cols=[(14.7, 26.3, 32), (98, 109.7, 115.7), (159.5, 171, 178.2)], font=6.3),
]
XLBL_OFF = [10, 10, 7.5]
XLBL_SIZE = [8.5, 8.5, 6.2]
YT_X = [None, 834, 1079]
YT_SIZE = [None, 8.5, 6.0]

for r in range(4):
    for c in range(3):
        x0, x1 = COLX[c]
        y0, y1 = ROWY3[r] if c == 2 else ROWY[r]
        xr = XR_G3 if c == 2 else XR_G12
        vals, spr = GRID[r][c]
        add_panel((x0, y0, x1, y1), xr, T12, GRID_NAMES[c], vals, spr, GRID_STY[c],
                  GRID_MSCALE[c], GRID_LW[c], 1.2)
        L = GRID_LEG[c]
        add_legend((x0 + L["box"][0], y0 + L["box"][1], x0 + L["box"][2], y0 + L["box"][3]),
                   [y0 + v for v in L["rows"]],
                   [(x0 + a, x0 + b, x0 + t) for a, b, t in L["cols"]],
                   GRID_NAMES[c], GRID_STY[c], GRID_MSCALE[c], GRID_LW[c], L["font"])
        text(X_LABEL, (x0 + x1) / 2.0, min(y1 + XLBL_OFF[c], 737), XLBL_SIZE[c], xanchor="center")
        if c > 0:
            text(EMOTIONS[r], YT_X[c], (y0 + y1) / 2.0, YT_SIZE[c], xanchor="center", angle=-90)

ROW_LETTER_Y = [66, 248, 437, 596]
ROW_CAPTION_Y = [107, 288.5, 465, 652]
for r in range(4):
    text(ROW_LETTERS[r], 580, ROW_LETTER_Y[r], 22, family=LBL_FONT, xanchor="center", weight="bold")
    text(ROW_CAPTIONS[r], 589, ROW_CAPTION_Y[r], 20.5, family=LBL_FONT, xanchor="right", align="right")

# divider between left and right halves
shapes.append(dict(type="line", xref="paper", yref="paper", x0=fx(439.5), x1=fx(439.5), y0=0, y1=1,
                   line=dict(color="#2b2b2b", width=3), layer="above"))

# ------------------------------------------------------------------ overlay for legend keys (pixel space)
ov = count[0] + 1
for tr in legend_traces:
    tr.update(xaxis="x%d" % ov, yaxis="y%d" % ov)
    fig.add_trace(tr)
axes_layout["xaxis%d" % ov] = dict(domain=[0, 1], range=[0, W], visible=False, fixedrange=True, anchor="y%d" % ov)
axes_layout["yaxis%d" % ov] = dict(domain=[0, 1], range=[H, 0], visible=False, fixedrange=True, anchor="x%d" % ov)

fig.update_layout(
    width=W, height=H,
    margin=dict(l=0, r=0, t=0, b=0, autoexpand=False),
    paper_bgcolor="white", plot_bgcolor="rgba(0,0,0,0)",
    showlegend=False, hovermode=False,
    shapes=shapes, annotations=annotations,
    **axes_layout
)

fig.write_html("out.html",
               config={"displayModeBar": False, "staticPlot": True},
               post_script="document.body.style.margin='0px';document.body.style.padding='0px';"
                           "document.documentElement.style.overflow='hidden';")
